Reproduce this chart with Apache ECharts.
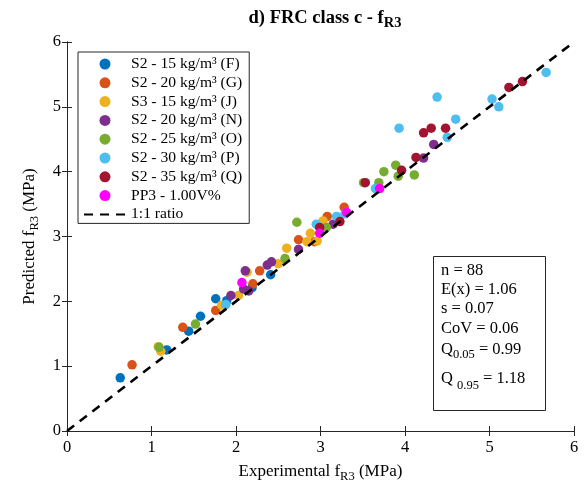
<!DOCTYPE html>
<html><head><meta charset="utf-8">
<script src="https://cdn.jsdelivr.net/npm/echarts@6/dist/echarts.min.js"></script>
<style>html,body{margin:0;padding:0;background:#fff}#c{width:588px;height:497px}</style>
</head><body><div id="c"></div>
<script>
const seriesNames = ['S2 - 15 kg/m³ (F)','S2 - 20 kg/m³ (G)','S3 - 15 kg/m³ (J)','S2 - 20 kg/m³ (N)','S2 - 25 kg/m³ (O)','S2 - 30 kg/m³ (P)','S2 - 35 kg/m³ (Q)','PP3 - 1.00V%'];
const lineName = '1:1 ratio';
const expF = [0.63, 1.18, 1.44, 1.58, 1.76, 1.89, 2.19, 2.41];
const predF = [0.82, 1.25, 1.54, 1.77, 2.04, 2.01, 2.21, 2.41];
const expG = [0.77, 1.37, 1.76, 2.20, 2.28, 2.74, 2.93, 3.08, 3.28];
const predG = [1.02, 1.60, 1.86, 2.27, 2.47, 2.95, 2.92, 3.31, 3.45];
const expJ = [1.08, 1.11, 1.83, 2.03, 2.13, 2.50, 2.60, 2.84, 2.88, 2.96, 3.03];
const predJ = [1.30, 1.23, 1.94, 2.09, 2.45, 2.58, 2.82, 2.92, 3.05, 2.93, 3.24];
const expN = [1.94, 2.09, 2.15, 2.11, 2.37, 2.42, 2.74, 3.15, 4.22, 4.34];
const predN = [2.09, 2.19, 2.16, 2.47, 2.56, 2.61, 2.80, 3.19, 4.21, 4.42];
const expO = [1.09, 1.52, 2.58, 2.72, 3.07, 3.51, 3.69, 3.75, 3.89, 3.92, 4.11];
const predO = [1.29, 1.65, 2.66, 3.22, 3.14, 3.83, 3.83, 4.00, 4.10, 3.93, 3.95];
const expP = [1.88, 2.95, 3.19, 3.29, 3.65, 3.93, 4.38, 4.50, 4.60, 5.03, 5.11, 5.67];
const predP = [1.95, 3.19, 3.31, 3.35, 3.74, 4.67, 5.15, 4.53, 4.81, 5.12, 5.00, 5.53];
const expQ = [2.99, 3.23, 3.53, 3.96, 4.13, 4.22, 4.31, 4.48, 5.23, 5.39];
const predQ = [3.14, 3.23, 3.83, 4.02, 4.22, 4.60, 4.67, 4.67, 5.30, 5.39];
const expPP = [2.07, 2.99, 3.31, 3.70];
const predPP = [2.29, 3.05, 3.37, 3.74];
const ratioLine = [[0, 0], [6, 6]];
const colors = ['#0072BD','#D95319','#EDB120','#7E2F8E','#77AC30','#4DBEEE','#A2142F','#FF00FF'];
const statLines = [
  ['n = 88'],
  ['E(x) = 1.06'],
  ['s = 0.07'],
  ['CoV = 0.06'],
  ['Q', '0.05', ' = 0.99'],
  ['Q ', '0.95', ' = 1.18']
];

const allExp = [expF, expG, expJ, expN, expO, expP, expQ, expPP];
const allPred = [predF, predG, predJ, predN, predO, predP, predQ, predPP];
const FONT = 'Liberation Serif';
const TXT = '#000';

const series = seriesNames.map((name, i) => ({
  name, type: 'scatter', symbol: 'circle', symbolSize: 9.5,
  itemStyle: { color: colors[i], opacity: 1 },
  data: allExp[i].map((x, j) => [x, allPred[i][j]]),
  xAxisIndex: 0, yAxisIndex: 0, z: 2 + i
}));
series.push({
  name: lineName, type: 'line', data: ratioLine, symbol: 'none', z: 20,
  itemStyle: { color: '#000' },
  lineStyle: { color: '#000', width: 2.6, type: [9, 7] }, clip: true
});

const subRich = {
  a: { fontFamily: FONT, fontSize: 17, color: TXT, lineHeight: 20 },
  b: { fontFamily: FONT, fontSize: 12.5, color: TXT, padding: [9, 0, 0, 0], lineHeight: 14 }
};

const statY = [272, 291, 310, 330, 349, 375];
const graphics = [{
  type: 'rect', shape: { x: 433.5, y: 256.5, width: 112, height: 154 },
  style: { fill: '#fff', stroke: '#262626', lineWidth: 1 }, z: 30
}];
statLines.forEach((parts, k) => {
  let text;
  if (parts.length === 1) text = '{a|' + parts[0] + '}';
  else text = '{a|' + parts[0] + '}{b|' + parts[1] + '}{a|' + parts[2] + '}';
  graphics.push({
    type: 'text', left: 441, top: statY[k] - 10, z: 31,
    style: {
      text, rich: {
        a: { fontFamily: FONT, fontSize: 16.5, fill: TXT, lineHeight: 20 },
        b: { fontFamily: FONT, fontSize: 12.5, fill: TXT, padding: [k === 5 ? 14 : 9, 0, 0, 0], lineHeight: 14 }
      }
    }
  });
});

const axisCommon = {
  min: 0, max: 6, interval: 1,
  axisLine: { show: true, lineStyle: { color: '#262626', width: 1 } },
  axisTick: { show: true, inside: true, length: 5, lineStyle: { color: '#262626', width: 1 } },
  splitLine: { show: false }
};

const chart = echarts.init(document.getElementById('c'));
chart.setOption({
  backgroundColor: '#fff',
  animation: false,
  title: {
    text: '{a|d) FRC class c - f}{b|R3}',
    left: 320, top: 2, textAlign: 'center',
    textStyle: {
      rich: {
        a: { fontFamily: FONT, fontSize: 18.5, fontWeight: 'bold', color: TXT, lineHeight: 22 },
        b: { fontFamily: FONT, fontSize: 14.5, fontWeight: 'bold', color: TXT, padding: [10, 0, 0, 0], lineHeight: 16 }
      }
    }
  },
  grid: { left: 67, right: 14, top: 42, bottom: 66, containLabel: false },
  legend: {
    orient: 'vertical', left: 78, top: 52,
    data: seriesNames.map(n => ({ name: n, icon: 'circle' })).concat([
      { name: lineName, itemStyle: { opacity: 0, color: 'rgba(0,0,0,0)', borderWidth: 0 } }
    ]),
    itemWidth: 42, itemHeight: 11, itemGap: 2.8,
    padding: [4, 7, 1, 5],
    backgroundColor: '#fff', borderColor: '#262626', borderWidth: 1, borderRadius: 0,
    textStyle: { fontFamily: FONT, fontSize: 15.6, color: TXT, lineHeight: 16 },
    z: 30
  },
  xAxis: [
    Object.assign({}, axisCommon, {
      type: 'value', position: 'bottom',
      axisLabel: { fontFamily: FONT, fontSize: 16.5, color: TXT, margin: 8 },
      name: '{a|Experimental f}{b|R3}{a| (MPa)}', nameLocation: 'middle', nameGap: 19,
      nameTextStyle: { rich: subRich }
    }),
    Object.assign({}, axisCommon, { type: 'value', position: 'top', axisLabel: { show: false } })
  ],
  yAxis: [
    Object.assign({}, axisCommon, {
      type: 'value', position: 'left',
      axisLabel: { fontFamily: FONT, fontSize: 16.5, color: TXT, margin: 6 },
      name: '{a|Predicted f}{b|R3}{a| (MPa)}', nameLocation: 'middle', nameGap: 27, nameRotate: 90,
      nameTextStyle: { rich: subRich }
    }),
    Object.assign({}, axisCommon, { type: 'value', position: 'right', axisLabel: { show: false } })
  ],
  graphic: graphics,
  series
});
</script>
</body></html>
